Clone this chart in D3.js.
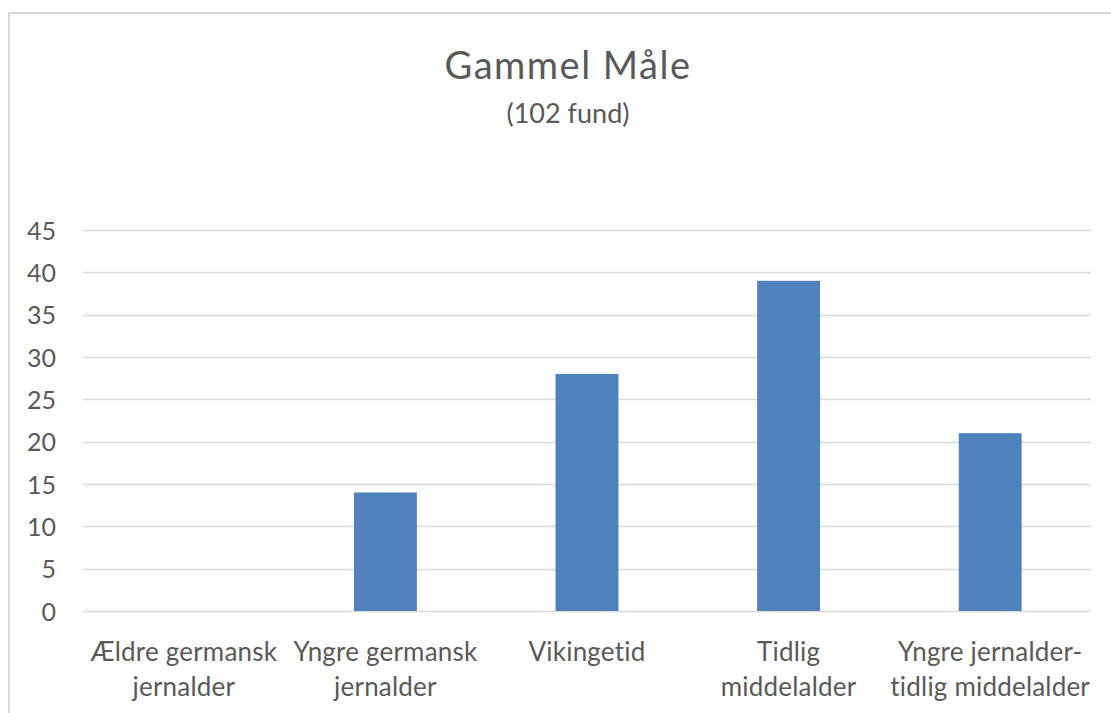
<!DOCTYPE html>
<html>
<head>
<meta charset="utf-8">
<script src="https://cdn.jsdelivr.net/npm/d3@7"></script>
<style>
  html, body { margin: 0; padding: 0; background: #fff; }
  svg { display: block; }
</style>
</head>
<body>
<svg id="chart" width="1111" height="713"></svg>
<script>
const categories = [
  ["Ældre germansk", "jernalder"],
  ["Yngre germansk", "jernalder"],
  ["Vikingetid"],
  ["Tidlig", "middelalder"],
  ["Yngre jernalder-", "tidlig middelalder"]
];
const values = [0, 14, 28, 39, 21];
const yTicks = [0, 5, 10, 15, 20, 25, 30, 35, 40, 45];
const titleText = "Gammel Måle";
const subtitleText = "(102 fund)";

const svg = d3.select("#chart");
const W = 1111, H = 713;
const font = "Lato, 'Open Sans', sans-serif";
const textColor = "#595959";

// outer chart border
svg.append("rect")
  .attr("x", 9).attr("y", 13)
  .attr("width", W + 20).attr("height", H + 20)
  .attr("fill", "#fff")
  .attr("stroke", "#d9d9d9")
  .attr("stroke-width", 2);

const plot = { left: 83, right: 1091, top: 230, bottom: 611 };

const x = d3.scaleBand()
  .domain(d3.range(categories.length))
  .range([plot.left, plot.right])
  .paddingInner(0).paddingOuter(0);

const y = d3.scaleLinear().domain([0, 45]).range([plot.bottom, plot.top]);

// gridlines
svg.append("g")
  .selectAll("line")
  .data(yTicks)
  .join("line")
  .attr("x1", plot.left).attr("x2", plot.right)
  .attr("y1", d => Math.round(y(d)) + 0.5)
  .attr("y2", d => Math.round(y(d)) + 0.5)
  .attr("stroke", "#d9d9d9")
  .attr("stroke-width", 1.3);

// y axis labels
const yAxis = d3.axisLeft(y).tickValues(yTicks).tickSize(0).tickPadding(0);
const gy = svg.append("g").attr("transform", `translate(56,0)`).call(yAxis);
gy.select(".domain").remove();
gy.selectAll("text")
  .attr("font-family", font)
  .attr("font-size", 25)
  .attr("dy", "0.36em")
  .attr("fill", textColor);

// bars
const barW = x.bandwidth() * 0.312;
svg.append("g")
  .selectAll("rect")
  .data(values)
  .join("rect")
  .attr("x", (d, i) => x(i) + x.bandwidth() / 2 - barW / 2)
  .attr("width", barW)
  .attr("y", d => y(d))
  .attr("height", d => y(0) - y(d))
  .attr("fill", "#4f81bd");

// category labels
const gx = svg.append("g");
categories.forEach((lines, i) => {
  const t = gx.append("text")
    .attr("x", x(i) + x.bandwidth() / 2)
    .attr("y", 661)
    .attr("text-anchor", "middle")
    .attr("font-family", font)
    .attr("font-size", 26)
    .attr("letter-spacing", 0.2)
    .attr("fill", textColor);
  lines.forEach((ln, j) => {
    t.append("tspan")
      .attr("x", x(i) + x.bandwidth() / 2)
      .attr("dy", j === 0 ? 0 : 35)
      .text(ln);
  });
});

// titles
svg.append("text")
  .attr("x", 568).attr("y", 79)
  .attr("text-anchor", "middle")
  .attr("font-family", font)
  .attr("font-size", 38)
  .attr("letter-spacing", 1.5)
  .attr("fill", textColor)
  .text(titleText);

svg.append("text")
  .attr("x", 568).attr("y", 123)
  .attr("text-anchor", "middle")
  .attr("font-family", font)
  .attr("font-size", 27)
  .attr("fill", textColor)
  .text(subtitleText);
</script>
</body>
</html>
